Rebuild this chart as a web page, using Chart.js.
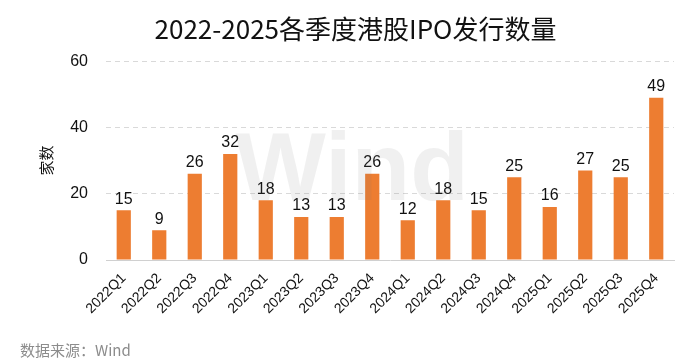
<!DOCTYPE html>
<html>
<head>
<meta charset="utf-8">
<script src="https://cdn.jsdelivr.net/npm/chart.js@4"></script>
<style>
  html, body { margin: 0; padding: 0; background: #fff; }
  #wrap { width: 687px; height: 362px; position: relative; }
</style>
</head>
<body>
<div id="wrap"><canvas id="c"></canvas></div>
<script>
// 数据
const quarters = ['2022Q1','2022Q2','2022Q3','2022Q4','2023Q1','2023Q2','2023Q3','2023Q4',
                  '2024Q1','2024Q2','2024Q3','2024Q4','2025Q1','2025Q2','2025Q3','2025Q4'];
const ipoCounts = [15, 9, 26, 32, 18, 13, 13, 26, 12, 18, 15, 25, 16, 27, 25, 49];
const yTicks = [0, 20, 40, 60];

const latin = '"Liberation Sans", Arial, "Noto Sans CJK SC", sans-serif';

// 柱顶数值 + 水印 + 数据来源
const extras = {
  id: 'extras',
  afterDatasetsDraw(chart) {
    const ctx = chart.ctx;
    const meta = chart.getDatasetMeta(0);
    ctx.save();
    ctx.fillStyle = '#111';
    ctx.font = '16px ' + latin;
    ctx.textAlign = 'center';
    ctx.textBaseline = 'bottom';
    meta.data.forEach((bar, i) => {
      ctx.fillText(ipoCounts[i], bar.x, bar.y - 3);
    });
    // 水印
    ctx.font = 'bold 96px ' + latin;
    ctx.fillStyle = 'rgba(120,120,120,0.11)';
    ctx.textBaseline = 'alphabetic';
    ctx.fillText('Wind', 352, 200);
    // 来源
    ctx.font = '15px "Noto Sans CJK SC", sans-serif';
    ctx.fillStyle = '#8c8c8c';
    ctx.textAlign = 'left';
    ctx.fillText('数据来源：Wind', 20, 356);
    ctx.restore();
  }
};

new Chart(document.getElementById('c'), {
  type: 'bar',
  data: {
    labels: quarters,
    datasets: [{
      data: ipoCounts,
      backgroundColor: '#ED7D31',
      barPercentage: 0.8,
      categoryPercentage: 0.5
    }]
  },
  options: {
    responsive: true,
    maintainAspectRatio: false,
    animation: false,
    layout: { padding: { left: 37, right: 13, top: 0, bottom: 40 } },
    plugins: {
      legend: { display: false },
      tooltip: { enabled: false },
      title: {
        display: true,
        text: '2022-2025各季度港股IPO发行数量',
        color: '#111',
        font: { family: '"Noto Sans CJK SC", sans-serif', size: 26, weight: 'normal' },
        padding: { top: 14, bottom: 16 }
      }
    },
    scales: {
      x: {
        grid: { display: false, drawTicks: false },
        border: { color: '#d0d0d0', width: 1 },
        ticks: {
          color: '#111',
          font: { family: latin, size: 14 },
          minRotation: 45, maxRotation: 45,
          padding: 10
        },
        afterFit(s) { s.height = 62; }
      },
      y: {
        min: 0, max: 60,
        afterBuildTicks(s) { s.ticks = yTicks.map(v => ({ value: v })); },
        grid: { color: '#d9d9d9', drawTicks: false, lineWidth: 1 },
        border: { display: false, dash: [5, 4] },
        ticks: {
          color: '#111',
          font: { family: latin, size: 16 },
          padding: 18
        },
        title: {
          display: true,
          text: '家数',
          color: '#111',
          font: { family: '"Noto Sans CJK SC", sans-serif', size: 15 },
          padding: 0
        },
        afterFit(s) { s.width = 69; }
      }
    }
  },
  plugins: [extras]
});
</script>
</body>
</html>
